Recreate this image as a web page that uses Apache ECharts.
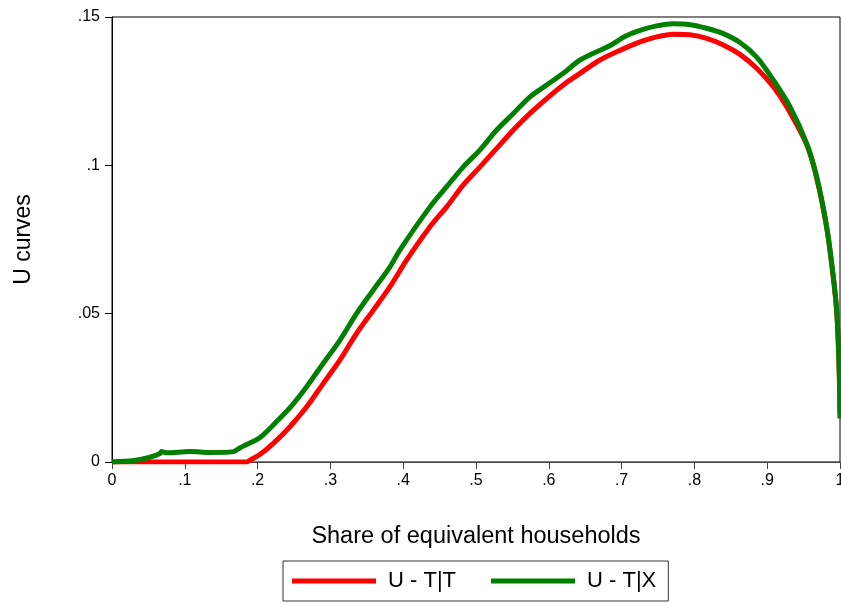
<!DOCTYPE html>
<html>
<head>
<meta charset="utf-8">
<script src="https://cdn.jsdelivr.net/npm/echarts@6/dist/echarts.min.js"></script>
<style>html,body{margin:0;padding:0;background:#fff}#c{width:841px;height:603px}</style>
</head>
<body>
<div id="c"></div>
<script>
// Data
var shareTT = [0, 0.1, 0.185, 0.19, 0.203, 0.2216, 0.2445, 0.2674, 0.2903, 0.3132, 0.3361, 0.359, 0.3819, 0.4048, 0.4368, 0.4597, 0.4826, 0.5055, 0.5284, 0.5513, 0.5742, 0.5971, 0.6199, 0.6429, 0.6703, 0.70, 0.7253, 0.7482, 0.7711, 0.794, 0.8168, 0.8397, 0.8626, 0.8855, 0.9084, 0.9266, 0.9542, 0.9679, 0.9817, 0.9908, 0.9954, 0.9977, 0.9991, 1.0];
var uTT = [0, 0, 0, 0.0007, 0.0025, 0.0063, 0.0119, 0.0186, 0.0265, 0.0344, 0.0434, 0.0512, 0.0591, 0.0681, 0.0793, 0.086, 0.0934, 0.0995, 0.1057, 0.1119, 0.1175, 0.1225, 0.1271, 0.131, 0.1355, 0.139, 0.1416, 0.1433, 0.1442, 0.144, 0.1428, 0.1406, 0.1374, 0.1327, 0.1265, 0.1198, 0.107, 0.0958, 0.079, 0.0622, 0.051, 0.0398, 0.0288, 0.016];
var shareTX = [0, 0.03, 0.052, 0.066, 0.068, 0.075, 0.107, 0.135, 0.1667, 0.176, 0.19, 0.203, 0.2216, 0.2445, 0.2674, 0.2903, 0.3132, 0.3361, 0.359, 0.3819, 0.3956, 0.4368, 0.4597, 0.4826, 0.5055, 0.5284, 0.5513, 0.5742, 0.5971, 0.6199, 0.6429, 0.685, 0.705, 0.7253, 0.7482, 0.7711, 0.794, 0.8168, 0.8397, 0.8626, 0.8855, 0.9084, 0.9313, 0.9542, 0.9679, 0.9817, 0.9908, 0.9954, 0.9977, 0.9991, 1.0];
var uTX = [0, 0.0005, 0.0016, 0.0029, 0.0035, 0.0031, 0.0035, 0.0032, 0.0035, 0.0048, 0.0065, 0.0082, 0.0125, 0.0183, 0.0254, 0.0333, 0.0411, 0.0501, 0.058, 0.0658, 0.0715, 0.086, 0.0928, 0.0995, 0.1052, 0.1119, 0.1175, 0.1231, 0.1271, 0.131, 0.1355, 0.1405, 0.1435, 0.1455, 0.147, 0.1477, 0.1474, 0.1462, 0.1444, 0.1414, 0.1365, 0.1288, 0.1198, 0.1074, 0.0962, 0.0793, 0.0625, 0.0512, 0.04, 0.0288, 0.0147];
var xTicks = [0, 0.1, 0.2, 0.3, 0.4, 0.5, 0.6, 0.7, 0.8, 0.9, 1];
var xTickLabels = ['0', '.1', '.2', '.3', '.4', '.5', '.6', '.7', '.8', '.9', '1'];
var yTicks = [0, 0.05, 0.1, 0.15];
var yTickLabels = ['0', '.05', '.1', '.15'];
var seriesNames = ['U - T|T', 'U - T|X'];

function pairs(xs, ys) { return xs.map(function (x, i) { return [x, ys[i]]; }); }
function lab(ticks, labels) {
  return function (v) {
    for (var i = 0; i < ticks.length; i++) if (Math.abs(ticks[i] - v) < 1e-9) return labels[i];
    return '';
  };
}
var FONT = 'Liberation Sans, Arial, Helvetica, sans-serif';
var chart = echarts.init(document.getElementById('c'), null, { renderer: 'canvas' });
chart.setOption({
  animation: false,
  backgroundColor: '#fff',
  textStyle: { fontFamily: FONT },
  grid: { left: 112, right: 1, top: 17, bottom: 141, show: true, borderColor: '#000', borderWidth: 1,
          containLabel: false, outerBoundsMode: 'none' },
  xAxis: {
    type: 'value', min: 0, max: 1, interval: 0.1,
    name: 'Share of equivalent households', nameLocation: 'middle', nameGap: 63,
    nameTextStyle: { fontSize: 23.5, color: '#000', fontFamily: FONT },
    axisLine: { show: true, lineStyle: { color: '#444', width: 1 } },
    axisTick: { show: true, length: 7, lineStyle: { color: '#444' } },
    axisLabel: { fontSize: 16, color: '#000', margin: 11, fontFamily: FONT, formatter: lab(xTicks, xTickLabels), showMaxLabel: true, showMinLabel: true, hideOverlap: false },
    splitLine: { show: false }
  },
  yAxis: {
    type: 'value', min: 0, max: 0.15, interval: 0.05,
    name: 'U curves', nameLocation: 'middle', nameGap: 77,
    nameTextStyle: { fontSize: 23, color: '#000', fontFamily: FONT },
    axisLine: { show: true, lineStyle: { color: '#000', width: 1 } },
    axisTick: { show: true, length: 7, lineStyle: { color: '#000' } },
    axisLabel: { fontSize: 16, color: '#000', margin: 12, fontFamily: FONT, formatter: lab(yTicks, yTickLabels) },
    splitLine: { show: false }
  },
  legend: {
    left: 283, top: 561,
    padding: [9, 12, 9, 9],
    itemGap: 35, itemWidth: 84, itemHeight: 5,
    icon: 'rect',
    borderColor: '#333', borderWidth: 1,
    textStyle: { fontSize: 22, color: '#000', padding: [0, 0, 0, 7], fontFamily: FONT },
    data: seriesNames
  },
  series: [
    { name: seriesNames[0], type: 'line', data: pairs(shareTT, uTT), showSymbol: false, smooth: 0.3,
      color: '#ff0000', lineStyle: { color: '#ff0000', width: 5 } },
    { name: seriesNames[1], type: 'line', data: pairs(shareTX, uTX), showSymbol: false, smooth: 0.3,
      color: '#008000', lineStyle: { color: '#008000', width: 5 } }
  ]
});
</script>
</body>
</html>
